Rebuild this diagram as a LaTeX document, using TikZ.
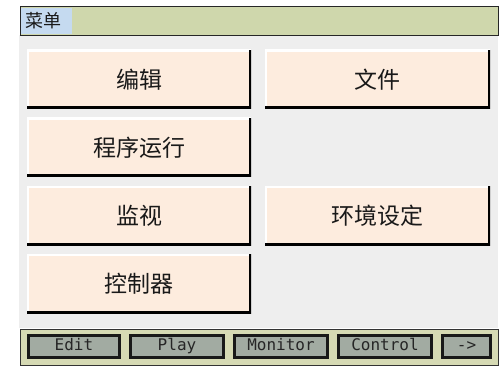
\documentclass[tikz,border=0pt]{standalone}
\usepackage{fontspec}
\newfontfamily\cjk{Noto Sans CJK SC}
\newfontfamily\mono{DejaVu Sans Mono}
\definecolor{titlebar}{HTML}{CFD7AC}
\definecolor{hilite}{HTML}{C5DAF0}
\definecolor{panel}{HTML}{EEEEEE}
\definecolor{peach}{HTML}{FDECDE}
\definecolor{barbg}{HTML}{D6DAB4}
\definecolor{fkey}{HTML}{A2ABA2}
\tikzset{
  menubtn/.style={rectangle, fill=peach, inner sep=0pt,
    minimum width=224pt, minimum height=59pt,
    font=\cjk\fontsize{23}{23}\selectfont, text=black!90,
    path picture={
      \draw[white, line width=4pt]
        (path picture bounding box.south west) -- (path picture bounding box.north west)
        -- (path picture bounding box.north east);
      \draw[black, line width=5pt]
        (path picture bounding box.north east) -- (path picture bounding box.south east)
        -- (path picture bounding box.south west);
    }},
  fkeybtn/.style={rectangle, fill=fkey, draw=black!90, line width=2.6pt, inner sep=0pt,
    minimum height=22.4pt, text height=11.5pt, text depth=3pt,
    font=\mono\fontsize{16}{16}\selectfont, text=black!85},
}
\begin{document}
\begin{tikzpicture}[x=1pt,y=-1pt]
\useasboundingbox[fill=white] (0,0) rectangle (500,366);
% panel
\fill[panel] (19,35) rectangle (498,328);
% title bar
\node[draw=black!85, line width=1.2pt, fill=titlebar, inner sep=0pt, anchor=north west,
  minimum width=478pt, minimum height=29pt] (title) at (19.6,5.6) {};
\node[fill=hilite, inner sep=0pt, anchor=north west, minimum width=51pt, minimum height=26pt]
  (titlehl) at (21,8) {};
\node[font=\cjk\fontsize{18}{18}\selectfont, text=black!90, inner sep=0pt, anchor=west]
  (titletext) at (25.5,21) {菜单};
% menu buttons
\node[menubtn] (edit) at (139,79.5) {编辑};
\node[menubtn, minimum width=225pt] (file) at (377.5,79.5) {文件};
\node[menubtn] (run) at (139,147.5) {程序运行};
\node[menubtn] (mon) at (139,215.5) {监视};
\node[menubtn, minimum width=225pt] (env) at (377.5,215.5) {环境设定};
\node[menubtn] (ctrl) at (139,283.5) {控制器};
% bottom bar
\node[draw=black!80, line width=1.2pt, fill=barbg, inner sep=0pt, anchor=north west,
  minimum width=478pt, minimum height=36pt] (bar) at (19.6,328.6) {};
\node[fkeybtn, minimum width=91.4pt] (fedit) at (74,346.5) {Edit};
\node[fkeybtn, minimum width=93.4pt] (fplay) at (177,346.5) {Play};
\node[fkeybtn, minimum width=93.4pt] (fmon) at (281,346.5) {Monitor};
\node[fkeybtn, minimum width=93.4pt] (fctrl) at (385,346.5) {Control};
\node[fkeybtn, minimum width=48.4pt] (fnext) at (466.5,346.5) {->};
\end{tikzpicture}
\end{document}
